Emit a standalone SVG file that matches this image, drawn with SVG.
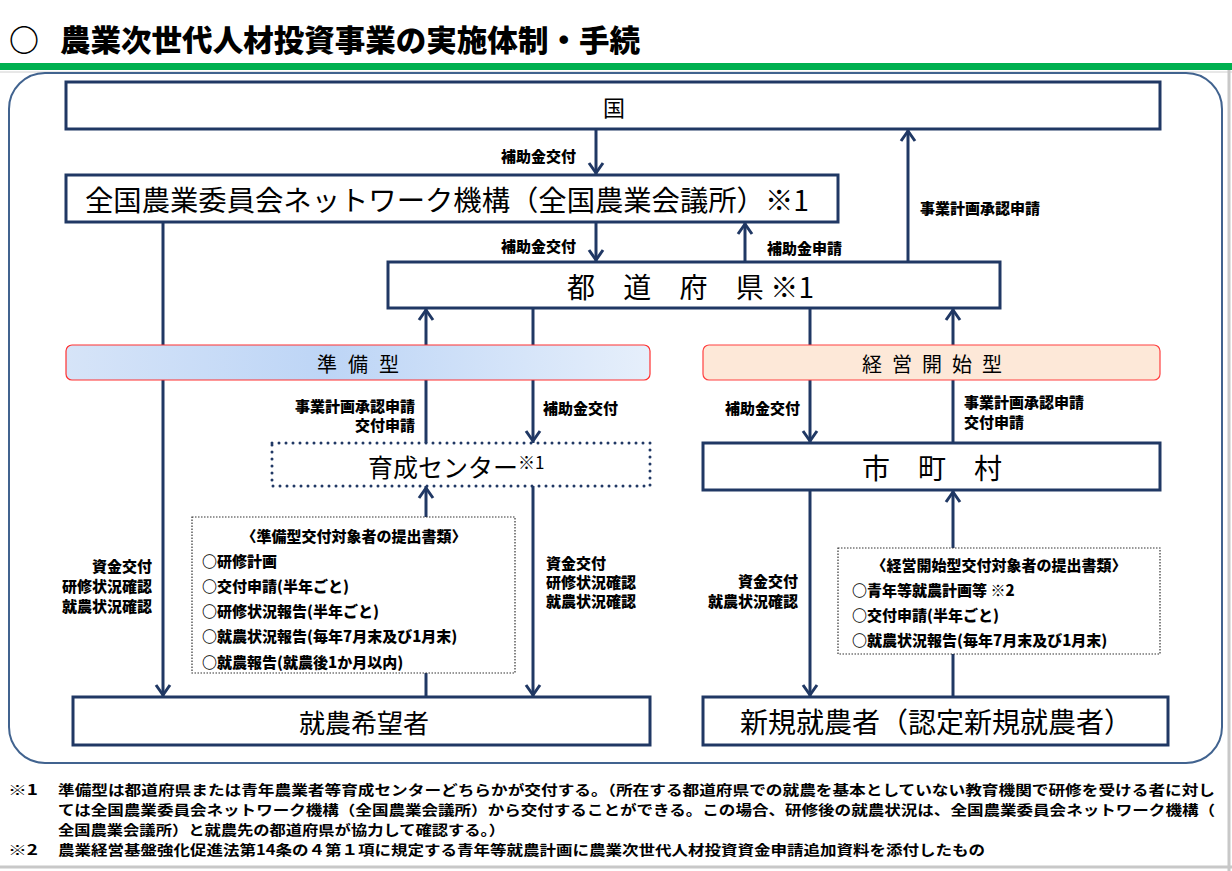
<svg xmlns="http://www.w3.org/2000/svg" width="1232" height="871" viewBox="0 0 1232 871">
<defs>
<style>
.box{fill:#fff;stroke:#203864;stroke-width:3}
.ln{fill:none;stroke:#203864;stroke-width:3;marker-end:url(#arr)}
.t{font-family:"Noto Sans CJK JP","Noto Sans",sans-serif;fill:#000;dominant-baseline:central}
.lbl{font-size:15px;font-weight:900}
.doc{font-size:15px;font-weight:900}
.fn{font-size:14px;font-weight:bold}
.bt{font-weight:normal}
.mid{text-anchor:middle}
.end{text-anchor:end}
.docbox{fill:#fff;stroke:#333;stroke-width:1.2;stroke-dasharray:1.5 1.5}
</style>
<marker id="arr" markerUnits="userSpaceOnUse" viewBox="-14 -9 16 18" markerWidth="16" markerHeight="18" refX="0" refY="0" orient="auto">
<path d="M-12,-7 L-2,0 L-12,7" fill="none" stroke="#203864" stroke-width="3"/>
</marker>
<linearGradient id="gblue" x1="0" y1="0" x2="1" y2="0">
<stop offset="0" stop-color="#d6e4f8"/>
<stop offset="0.45" stop-color="#bdd5f6"/>
<stop offset="1" stop-color="#e6effb"/>
</linearGradient>
</defs>
<rect width="1232" height="871" fill="#fff"/>
<g id="header">
<text class="t" x="9" y="38" font-size="30" font-weight="900">○</text>
<text class="t" x="60" y="38" font-size="30" font-weight="900" textLength="580" lengthAdjust="spacingAndGlyphs">農業次世代人材投資事業の実施体制・手続</text>
<rect x="0" y="63" width="1232" height="7" fill="#00b050"/>
<line x1="0" y1="72" x2="1232" y2="72" stroke="#d0d0d0" stroke-width="1"/>
</g>
<rect x="9" y="73" width="1213" height="690" rx="36" fill="none" stroke="#41638f" stroke-width="2"/>
<g id="connectors">
<path class="ln" d="M596,129 V175"/>
<path class="ln" d="M596,222 V262"/>
<path class="ln" d="M745,262 V222"/>
<path class="ln" d="M908,262 V129"/>
<path class="ln" d="M163,222 V697"/>
<path class="ln" d="M426,443 V308"/>
<path class="ln" d="M533,308 V443"/>
<path class="ln" d="M426,697 V486"/>
<path class="ln" d="M533,486 V697"/>
<path class="ln" d="M810,308 V443"/>
<path class="ln" d="M953,443 V308"/>
<path class="ln" d="M810,490 V697"/>
<path class="ln" d="M953,697 V490"/>
<text class="t lbl end" x="576" y="155">補助金交付</text>
<text class="t lbl end" x="576" y="245">補助金交付</text>
<text class="t lbl" x="767" y="247">補助金申請</text>
<text class="t lbl" x="920" y="207">事業計画承認申請</text>
<text class="t lbl end" x="152" y="565">資金交付</text>
<text class="t lbl end" x="152" y="585">研修状況確認</text>
<text class="t lbl end" x="152" y="605">就農状況確認</text>
<text class="t lbl end" x="415" y="405">事業計画承認申請</text>
<text class="t lbl end" x="415" y="424">交付申請</text>
<text class="t lbl" x="543" y="407">補助金交付</text>
<text class="t lbl" x="546" y="562">資金交付</text>
<text class="t lbl" x="546" y="581">研修状況確認</text>
<text class="t lbl" x="546" y="600">就農状況確認</text>
<text class="t lbl end" x="800" y="407">補助金交付</text>
<text class="t lbl" x="964" y="401">事業計画承認申請</text>
<text class="t lbl" x="964" y="421">交付申請</text>
<text class="t lbl end" x="798" y="580">資金交付</text>
<text class="t lbl end" x="798" y="600">就農状況確認</text>
</g>
<g id="kuni">
<rect class="box" x="66" y="82" width="1094" height="47"/>
<text class="t bt mid" x="614" y="106" font-size="22">国</text>
</g>
<g id="zenkoku">
<rect class="box" x="66" y="175" width="772" height="47"/>
<text class="t bt" x="85" y="199" font-size="28" textLength="724" lengthAdjust="spacingAndGlyphs">全国農業委員会ネットワーク機構（全国農業会議所）※1</text>
</g>
<g id="todofuken">
<rect class="box" x="388" y="262" width="612" height="46"/>
<text class="t bt" x="567" y="286" font-size="28" textLength="247">都　道　府　県 ※1</text>
</g>
<g id="junbi-banner">
<rect x="66" y="345" width="584" height="35" rx="6" fill="url(#gblue)" stroke="#ff3030" stroke-width="1.2"/>
<text class="t bt" x="317 348 379" y="363" font-size="20">準備型</text>
</g>
<g id="keiei-banner">
<rect x="703" y="345" width="457" height="35" rx="6" fill="#fde8d8" stroke="#ff4040" stroke-width="1.2"/>
<text class="t bt" x="862 892 922 952 982" y="363" font-size="20">経営開始型</text>
</g>
<g id="ikusei">
<rect x="272" y="443" width="378" height="43" fill="#fff" stroke="#203864" stroke-width="3" stroke-linecap="round" stroke-dasharray="0 7"/>
<text class="t bt" x="368" y="466" font-size="25">育成センター<tspan font-size="17" dy="-5">※1</tspan></text>
</g>
<g id="shichoson">
<rect class="box" x="703" y="443" width="457" height="47"/>
<text class="t bt" x="862" y="467" font-size="28">市　町　村</text>
</g>
<g id="junbi-docs">
<rect class="docbox" x="192" y="517" width="323" height="156"/>
<text class="t doc mid" x="354" y="535">〈準備型交付対象者の提出書類〉</text>
<text class="t doc" x="202" y="560">○研修計画</text>
<text class="t doc" x="202" y="585">○交付申請(半年ごと)</text>
<text class="t doc" x="202" y="610">○研修状況報告(半年ごと)</text>
<text class="t doc" x="202" y="635">○就農状況報告(毎年7月末及び1月末)</text>
<text class="t doc" x="202" y="661">○就農報告(就農後1か月以内)</text>
</g>
<g id="keiei-docs">
<rect class="docbox" x="838" y="548" width="322" height="106"/>
<text class="t doc mid" x="999" y="564">〈経営開始型交付対象者の提出書類〉</text>
<text class="t doc" x="852" y="589">○青年等就農計画等 ※2</text>
<text class="t doc" x="852" y="614">○交付申請(半年ごと)</text>
<text class="t doc" x="852" y="639">○就農状況報告(毎年7月末及び1月末)</text>
</g>
<g id="shuno-kibo">
<rect class="box" x="73" y="697" width="577" height="48"/>
<text class="t bt mid" x="364" y="721" font-size="26">就農希望者</text>
</g>
<g id="shinki">
<rect class="box" x="703" y="697" width="465" height="48"/>
<text class="t bt mid" x="936" y="721" font-size="28">新規就農者（認定新規就農者）</text>
</g>
<g id="footnotes">
<text class="t fn" x="8" y="789" textLength="30" lengthAdjust="spacingAndGlyphs">※1</text>
<text class="t fn" x="58" y="789" textLength="1157" lengthAdjust="spacingAndGlyphs">準備型は都道府県または青年農業者等育成センターどちらかが交付する。（所在する都道府県での就農を基本としていない教育機関で研修を受ける者に対し</text>
<text class="t fn" x="58" y="809" textLength="1157" lengthAdjust="spacingAndGlyphs">ては全国農業委員会ネットワーク機構（全国農業会議所）から交付することができる。この場合、研修後の就農状況は、全国農業委員会ネットワーク機構（</text>
<text class="t fn" x="58" y="829" textLength="447" lengthAdjust="spacingAndGlyphs">全国農業会議所）と就農先の都道府県が協力して確認する。）</text>
<text class="t fn" x="8" y="849" textLength="30" lengthAdjust="spacingAndGlyphs">※2</text>
<text class="t fn" x="58" y="849" textLength="927" lengthAdjust="spacingAndGlyphs">農業経営基盤強化促進法第14条の４第１項に規定する青年等就農計画に農業次世代人材投資資金申請追加資料を添付したもの</text>
</g>
<line x1="0" y1="867" x2="1232" y2="867" stroke="#c8c8c8" stroke-width="3"/>
<line x1="1229" y1="70" x2="1229" y2="871" stroke="#c8c8c8" stroke-width="3"/>
</svg>
